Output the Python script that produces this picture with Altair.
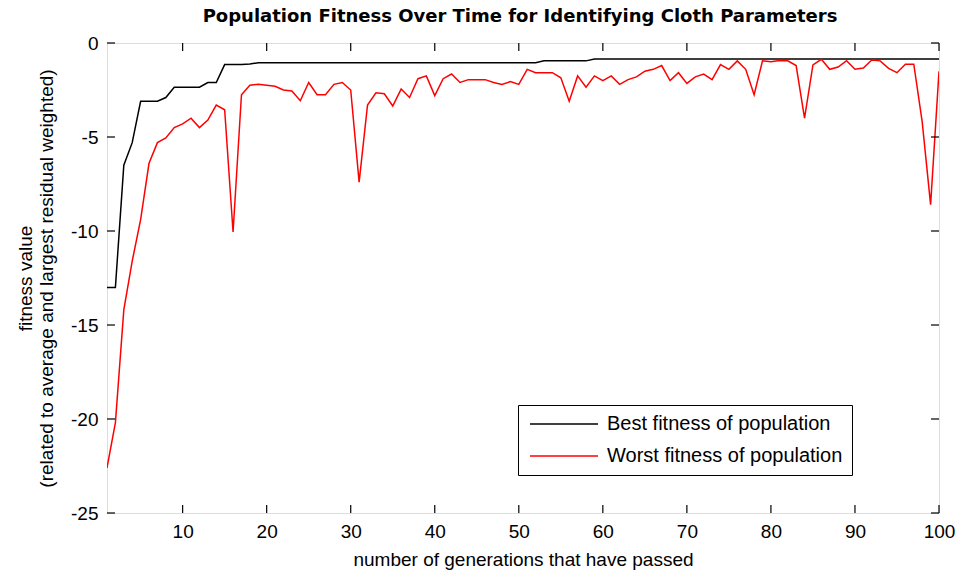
import altair as alt
import pandas as pd

generations = list(range(1, 101))

best_fitness = (
    [-13.0, -13.0, -6.5, -5.3, -3.1, -3.1, -3.1, -2.9, -2.35, -2.35,
     -2.35, -2.35, -2.1, -2.1, -1.15, -1.15, -1.15, -1.12]
    + [-1.05] * 34
    + [-0.95] * 6
    + [-0.85] * 42
)

worst_fitness = [
    -22.6, -20.2, -14.2, -11.6, -9.4, -6.4, -5.3, -5.05, -4.5, -4.3,
    -4.0, -4.5, -4.1, -3.3, -3.55, -10.05, -2.75, -2.25, -2.2, -2.25,
    -2.3, -2.5, -2.55, -3.07, -2.1, -2.75, -2.75, -2.2, -2.1, -2.5,
    -7.4, -3.3, -2.65, -2.7, -3.35, -2.45, -2.9, -1.9, -1.75, -2.8,
    -1.9, -1.65, -2.1, -1.95, -1.95, -1.95, -2.1, -2.2, -2.05, -2.2,
    -1.4, -1.58, -1.58, -1.58, -1.85, -3.1, -1.75, -2.35, -1.75, -2.0,
    -1.75, -2.2, -1.95, -1.8, -1.5, -1.4, -1.2, -2.0, -1.58, -2.15,
    -1.8, -1.65, -1.95, -1.15, -1.4, -0.95, -1.4, -2.75, -0.95, -1.0,
    -0.93, -0.95, -1.2, -4.0, -1.17, -0.87, -1.4, -1.28, -0.94, -1.4,
    -1.33, -0.9, -0.95, -1.35, -1.58, -1.13, -1.13, -4.2, -8.6, -1.5,
]

series_names = ["Best fitness of population", "Worst fitness of population"]
series_colors = ["#000000", "#ff0000"]

x_tick_values = [10, 20, 30, 40, 50, 60, 70, 80, 90, 100]
y_tick_values = [-25, -20, -15, -10, -5, 0]

df = pd.DataFrame({
    "gen": generations * 2,
    "value": best_fitness + worst_fitness,
    "series": [series_names[0]] * 100 + [series_names[1]] * 100,
})
xt = pd.DataFrame({"gen": x_tick_values})
yt = pd.DataFrame({"value": y_tick_values})

W, H = 832, 470
FONT = "Liberation Sans"

xscale = alt.Scale(domain=[1, 100], nice=False, zero=False)
yscale = alt.Scale(domain=[-25, 0], nice=False, zero=False)

lines = alt.Chart(df).mark_line(strokeWidth=1.5, clip=True).encode(
    x=alt.X("gen:Q", scale=xscale,
            title="number of generations that have passed",
            axis=alt.Axis(values=x_tick_values, tickSize=0, domain=False, grid=False,
                          labelPadding=9, labelFontSize=19, labelFont=FONT,
                          labelColor="#000", titleFont=FONT, titleFontSize=19,
                          titleFontWeight="normal", titleColor="#000",
                          titlePadding=9, labelFlush=False,
                          labelExpr="'' + datum.value")),
    y=alt.Y("value:Q", scale=yscale,
            title=["fitness value", "(related to average and largest residual weighted)"],
            axis=alt.Axis(values=y_tick_values, tickSize=0, domain=False, grid=False,
                          labelPadding=9, labelFontSize=19, labelFont=FONT,
                          labelColor="#000", titleFont=FONT, titleFontSize=19,
                          titleFontWeight="normal", titleColor="#000",
                          titlePadding=14, titleLineHeight=21, labelFlush=False,
                          labelExpr="'' + datum.value")),
    color=alt.Color("series:N",
                    scale=alt.Scale(domain=series_names, range=series_colors),
                    legend=alt.Legend(title=None, orient="none", legendX=411, legendY=362,
                                      strokeColor="#000", fillColor="#fff", padding=9,
                                      symbolType="M-4,0H4", symbolSize=289,
                                      symbolStrokeWidth=1.5, symbolOffset=27,
                                      labelFontSize=20, labelFont=FONT, labelColor="#000",
                                      labelOffset=33, labelLimit=500, rowPadding=12)),
    order="gen:Q",
)

tick_len = 8
x_bottom = alt.Chart(xt).mark_rule(color="#000", strokeWidth=1.2).encode(
    x=alt.X("gen:Q", scale=xscale), y=alt.value(H), y2=alt.value(H - tick_len))
x_top = alt.Chart(xt).mark_rule(color="#000", strokeWidth=1.2).encode(
    x=alt.X("gen:Q", scale=xscale), y=alt.value(0), y2=alt.value(tick_len))
y_left = alt.Chart(yt).mark_rule(color="#000", strokeWidth=1.2).encode(
    y=alt.Y("value:Q", scale=yscale), x=alt.value(0), x2=alt.value(tick_len))
y_right = alt.Chart(yt).mark_rule(color="#000", strokeWidth=1.2).encode(
    y=alt.Y("value:Q", scale=yscale), x=alt.value(W), x2=alt.value(W - tick_len))

chart = alt.layer(lines, x_bottom, x_top, y_left, y_right).properties(
    width=W, height=H,
    autosize="none",
    padding={"left": 107, "top": 43, "right": 18, "bottom": 61},
    title=alt.TitleParams(
        "Population Fitness Over Time for Identifying Cloth Parameters",
        font="DejaVu Sans", fontSize=18, fontWeight="bold", color="#000",
        anchor="middle", offset=8, dx=-3),
).configure_view(stroke="#000", strokeWidth=1.3).configure(background="#fff")

chart.save("out.html", embed_options={"renderer": "svg", "actions": False})
